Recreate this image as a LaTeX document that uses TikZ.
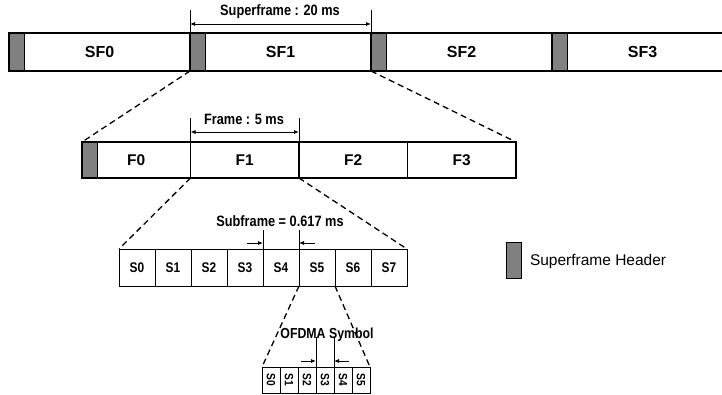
\documentclass[tikz,border=0pt]{standalone}
\usepackage{fontspec}
\setmainfont{Liberation Sans}
\newfontfamily\narrowfont[FakeStretch=0.85]{Liberation Sans}
\usetikzlibrary{arrows.meta}
\definecolor{hdrgray}{RGB}{128,128,128}

\begin{document}
\begin{tikzpicture}[x=1pt, y=-1pt, every node/.style={inner sep=0pt, outer sep=0pt},
  sfcell/.style={draw, line width=2pt, minimum width=181pt, minimum height=38pt, font=\fontsize{16}{16}\selectfont\bfseries},
  fcell/.style={draw, line width=1.2pt, minimum width=108.5pt, minimum height=36pt, font=\fontsize{15.5}{15.5}\selectfont\bfseries},
  scell/.style={draw, line width=1pt, minimum width=36pt, minimum height=37pt, font=\narrowfont\fontsize{14}{14}\selectfont\bfseries},
  ocell/.style={draw, line width=1pt, minimum width=18pt, minimum height=26pt, font=\narrowfont\fontsize{12}{12}\selectfont\bfseries},
  hdr/.style={draw, fill=hdrgray, line width=0.8pt, minimum width=15pt},
  zoomline/.style={dash pattern=on 6pt off 4pt, line width=1.3pt},
  tick/.style={line width=0.8pt},
  dim/.style={{Latex[length=5pt,width=4pt]}-{Latex[length=5pt,width=4pt]}, line width=0.8pt},
  arr/.style={-{Latex[length=5pt,width=4pt]}, line width=0.8pt},
  dimlbl/.style={font=\narrowfont\fontsize{15}{15}\selectfont\bfseries}]
\clip (0,0) rectangle (722,395);

% superframes
\node[hdr, minimum height=38pt] (hd0) at (16.5,52) {};
\node[hdr, minimum height=38pt] (hd1) at (197.5,52) {};
\node[hdr, minimum height=38pt] (hd2) at (378.5,52) {};
\node[hdr, minimum height=38pt] (hd3) at (559.5,52) {};
\node[sfcell] (sf0) at (99.5,52) {SF0};
\node[sfcell] (sf1) at (280.5,52) {SF1};
\node[sfcell] (sf2) at (461.5,52) {SF2};
\node[sfcell] (sf3) at (642.5,52) {SF3};

% frames
\node[hdr, minimum height=36pt] (hf) at (89.5,160) {};
\node[fcell] (f0) at (136.25,160) {F0};
\node[fcell] (f1) at (244.75,160) {F1};
\node[fcell] (f2) at (353.25,160) {F2};
\node[fcell] (f3) at (461.75,160) {F3};

% subframes
\node[scell] (s0) at (137,267.5) {S0};
\node[scell] (s1) at (173,267.5) {S1};
\node[scell] (s2) at (209,267.5) {S2};
\node[scell] (s3) at (245,267.5) {S3};
\node[scell] (s4) at (281,267.5) {S4};
\node[scell] (s5) at (317,267.5) {S5};
\node[scell] (s6) at (353,267.5) {S6};
\node[scell] (s7) at (389,267.5) {S7};

% OFDMA symbols
\node[ocell] (o0) at (271,380) {\rotatebox{-90}{S0}};
\node[ocell] (o1) at (289,380) {\rotatebox{-90}{S1}};
\node[ocell] (o2) at (307,380) {\rotatebox{-90}{S2}};
\node[ocell] (o3) at (325,380) {\rotatebox{-90}{S3}};
\node[ocell] (o4) at (343,380) {\rotatebox{-90}{S4}};
\node[ocell] (o5) at (361,380) {\rotatebox{-90}{S5}};

% zoom lines
\draw[zoomline] (sf1.south west) -- (f0.north west);
\draw[zoomline] (sf1.south east) -- (f3.north east);
\draw[zoomline] (f1.south west) -- (s0.north west);
\draw[zoomline] (f1.south east) -- (s7.north east);
\draw[zoomline] (s5.south west) -- (o0.north west);
\draw[zoomline] (s5.south east) -- (o5.north east);

% durations
\draw[tick] (sf1.north west) -- ++(0,-23);
\draw[tick] (sf1.north east) -- ++(0,-23);
\draw[dim] (sf1.north west |- 0,24) -- (sf1.north east |- 0,24);
\node[dimlbl] (sflbl) at (280,12) {Superframe : 20 ms};

\draw[tick] (f1.north west) -- ++(0,-24);
\draw[tick] (f1.north east) -- ++(0,-24);
\draw[dim] (f1.north west |- 0,132) -- (f1.north east |- 0,132);
\node[dimlbl] (flbl) at (244,119) {Frame : 5 ms};

\draw[tick] (s4.north west) -- ++(0,-19);
\draw[tick] (s4.north east) -- ++(0,-19);
\coordinate (sa) at (247,243);
\coordinate (sb) at (315,243);
\draw[arr] (sa) -- (sa -| s4.north west);
\draw[arr] (sb) -- (sb -| s4.north east);
\node[dimlbl] (slbl) at (280,221) {Subframe = 0.617 ms};

\draw[tick] (o3.north west) -- ++(0,-30);
\draw[tick] (o3.north east) -- ++(0,-30);
\coordinate (oa) at (301,361);
\coordinate (ob) at (349,361);
\draw[arr] (oa) -- (oa -| o3.north west);
\draw[arr] (ob) -- (ob -| o3.north east);
\node[dimlbl, font=\narrowfont\fontsize{14.5}{14.5}\selectfont\bfseries] (olbl) at (327,335) {OFDMA Symbol};

% legend
\node[hdr, minimum height=36pt] (lg) at (513.5,260) {};
\node[anchor=west, font=\fontsize{15.5}{15.5}\selectfont] (lgtxt) at (530,261) {Superframe Header};
\end{tikzpicture}
\end{document}
